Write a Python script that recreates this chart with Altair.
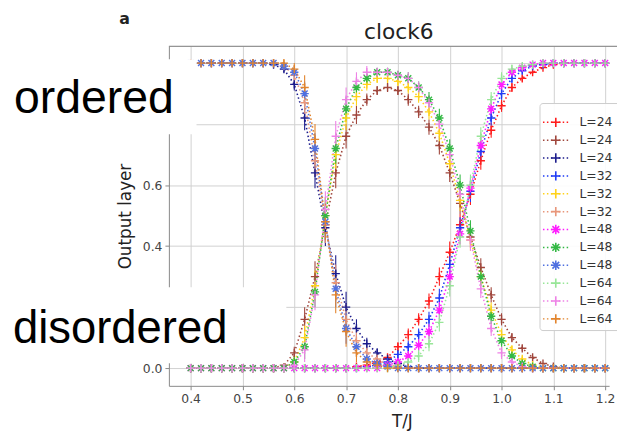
import altair as alt
import pandas as pd

# ---------------- data ----------------
T = [0.40, 0.42, 0.44, 0.46, 0.48, 0.50, 0.52, 0.54, 0.56, 0.58,
     0.60, 0.62, 0.64, 0.66, 0.68, 0.70, 0.72, 0.74, 0.76, 0.78,
     0.80, 0.82, 0.84, 0.86, 0.88, 0.90, 0.92, 0.94, 0.96, 0.98,
     1.00, 1.02, 1.04, 1.06, 1.08, 1.10, 1.12, 1.14, 1.16, 1.18, 1.20]

# L=24
red_L24 = [0, 0, 0, 0, 0, 0, 0, 0, 0, 0,
           0, 0, 0, 0, 0, 0, 0.005, 0.01, 0.02, 0.035,
           0.07, 0.11, 0.16, 0.22, 0.30, 0.38, 0.47, 0.57, 0.68, 0.78,
           0.86, 0.92, 0.95, 0.97, 0.985, 0.995, 1.0, 1.0, 1.0, 1.0, 1.0]
brown_L24 = [0, 0, 0, 0, 0, 0, 0, 0, 0, 0.01,
             0.05, 0.16, 0.30, 0.47, 0.64, 0.76, 0.83, 0.88, 0.91, 0.92,
             0.91, 0.88, 0.84, 0.79, 0.73, 0.64, 0.54, 0.43, 0.33, 0.24,
             0.16, 0.10, 0.065, 0.035, 0.015, 0.005, 0, 0, 0, 0, 0]
navy_L24 = [1.0, 1.0, 1.0, 1.0, 1.0, 1.0, 1.0, 1.0, 0.995, 0.98,
            0.93, 0.82, 0.64, 0.46, 0.31, 0.20, 0.13, 0.08, 0.05, 0.03,
            0.015, 0.005, 0, 0, 0, 0, 0, 0, 0, 0,
            0, 0, 0, 0, 0, 0, 0, 0, 0, 0, 0]
# L=32
blue_L32 = [0, 0, 0, 0, 0, 0, 0, 0, 0, 0,
            0, 0, 0, 0, 0, 0, 0, 0.005, 0.01, 0.02,
            0.045, 0.07, 0.11, 0.16, 0.23, 0.34, 0.46, 0.58, 0.71, 0.82,
            0.90, 0.95, 0.975, 0.99, 0.995, 1.0, 1.0, 1.0, 1.0, 1.0, 1.0]
yellow_L32 = [0, 0, 0, 0, 0, 0, 0, 0, 0, 0,
              0.02, 0.10, 0.27, 0.50, 0.70, 0.82, 0.89, 0.93, 0.95, 0.95,
              0.94, 0.92, 0.89, 0.84, 0.77, 0.67, 0.55, 0.42, 0.30, 0.19,
              0.11, 0.06, 0.03, 0.01, 0, 0, 0, 0, 0, 0, 0]
salmon_L32 = [1.0, 1.0, 1.0, 1.0, 1.0, 1.0, 1.0, 1.0, 1.0, 0.99,
              0.96, 0.87, 0.68, 0.47, 0.28, 0.16, 0.09, 0.05, 0.03, 0.01,
              0.005, 0, 0, 0, 0, 0, 0, 0, 0, 0,
              0, 0, 0, 0, 0, 0, 0, 0, 0, 0, 0]
# L=48
magenta_L48 = [0, 0, 0, 0, 0, 0, 0, 0, 0, 0,
               0, 0, 0, 0, 0, 0, 0, 0, 0, 0.01,
               0.02, 0.04, 0.075, 0.12, 0.19, 0.30, 0.44, 0.59, 0.73, 0.85,
               0.93, 0.97, 0.985, 0.995, 1.0, 1.0, 1.0, 1.0, 1.0, 1.0, 1.0]
green_L48 = [0, 0, 0, 0, 0, 0, 0, 0, 0, 0,
             0.02, 0.07, 0.25, 0.50, 0.72, 0.85, 0.92, 0.95, 0.97, 0.97,
             0.96, 0.95, 0.92, 0.88, 0.82, 0.72, 0.60, 0.45, 0.30, 0.17,
             0.09, 0.04, 0.015, 0.005, 0, 0, 0, 0, 0, 0, 0]
cornflower_L48 = [1.0, 1.0, 1.0, 1.0, 1.0, 1.0, 1.0, 1.0, 1.0, 0.99,
                  0.97, 0.90, 0.72, 0.48, 0.26, 0.13, 0.07, 0.03, 0.015, 0.005,
                  0, 0, 0, 0, 0, 0, 0, 0, 0, 0,
                  0, 0, 0, 0, 0, 0, 0, 0, 0, 0, 0]
# L=64
lgreen_L64 = [0, 0, 0, 0, 0, 0, 0, 0, 0, 0,
              0, 0, 0, 0, 0, 0, 0, 0, 0, 0,
              0.01, 0.02, 0.04, 0.08, 0.15, 0.27, 0.43, 0.60, 0.76, 0.88,
              0.95, 0.98, 0.99, 0.995, 1.0, 1.0, 1.0, 1.0, 1.0, 1.0, 1.0]
violet_L64 = [0, 0, 0, 0, 0, 0, 0, 0, 0, 0,
              0.01, 0.06, 0.24, 0.52, 0.76, 0.88, 0.94, 0.97, 0.97, 0.97,
              0.96, 0.95, 0.92, 0.87, 0.80, 0.70, 0.57, 0.42, 0.26, 0.13,
              0.05, 0.02, 0.005, 0, 0, 0, 0, 0, 0, 0, 0]
orange_L64 = [1.0, 1.0, 1.0, 1.0, 1.0, 1.0, 1.0, 1.0, 1.0, 1.0,
              0.98, 0.92, 0.75, 0.48, 0.24, 0.12, 0.05, 0.02, 0.01, 0,
              0, 0, 0, 0, 0, 0, 0, 0, 0, 0,
              0, 0, 0, 0, 0, 0, 0, 0, 0, 0, 0]

# error bars (half-length) per output neuron
err_ordered = [0, 0, 0, 0, 0, 0, 0, 0, 0, 0.01,
               0.02, 0.04, 0.05, 0.06, 0.06, 0.05, 0.03, 0.02, 0.015, 0.01,
               0.005, 0, 0, 0, 0, 0, 0, 0, 0, 0,
               0, 0, 0, 0, 0, 0, 0, 0, 0, 0, 0]
err_middle = [0, 0, 0, 0, 0, 0, 0, 0, 0, 0.005,
              0.02, 0.04, 0.05, 0.06, 0.05, 0.04, 0.03, 0.02, 0.015, 0.015,
              0.015, 0.02, 0.02, 0.025, 0.03, 0.03, 0.035, 0.035, 0.03, 0.025,
              0.02, 0.015, 0.01, 0.005, 0, 0, 0, 0, 0, 0, 0]
err_disordered = [0, 0, 0, 0, 0, 0, 0, 0, 0, 0,
                  0, 0, 0, 0, 0, 0, 0, 0, 0.005, 0.01,
                  0.015, 0.02, 0.02, 0.025, 0.03, 0.035, 0.035, 0.035, 0.03, 0.025,
                  0.02, 0.015, 0.01, 0.005, 0, 0, 0, 0, 0, 0, 0]

labels = ["L=24", "L=24", "L=24", "L=32", "L=32", "L=32",
          "L=48", "L=48", "L=48", "L=64", "L=64", "L=64"]
colors = ["#ff1c1c", "#a0463c", "#1c1c8c", "#1f3cf5", "#ffd21a", "#e8967a",
          "#ff1cff", "#33b844", "#4f70e0", "#98e698", "#ee82e6", "#e2842c"]
PLUS = "M-1,0L1,0M0,-1L0,1"
STAR = "M-1,0L1,0M0,-1L0,1M-0.72,-0.72L0.72,0.72M-0.72,0.72L0.72,-0.72"
marker_kind = ["plus", "plus", "plus", "plus", "plus", "plus",
               "star", "star", "star", "plus", "plus", "plus"]

series_vals = [red_L24, brown_L24, navy_L24, blue_L32, yellow_L32, salmon_L32,
               magenta_L48, green_L48, cornflower_L48, lgreen_L64, violet_L64, orange_L64]
series_err = [err_disordered, err_middle, err_ordered] * 4

ids = [f"s{k:02d}" for k in range(len(labels))]
shapes = [PLUS if m == "plus" else STAR for m in marker_kind]

rows = []
for k, (vals, errs) in enumerate(zip(series_vals, series_err)):
    for t, v, e in zip(T, vals, errs):
        rows.append({"sid": ids[k], "T": t, "v": v, "lo": v - e, "hi": v + e, "order": k})
df = pd.DataFrame(rows)

# ---------------- scales / axes ----------------
W, H = 446, 344
XDOM = [0.358, 1.2076]
YDOM = [-0.058, 1.055]
FONT = "DejaVu Sans"

xscale = alt.Scale(domain=XDOM, nice=False, zero=False)
yscale = alt.Scale(domain=YDOM, nice=False, zero=False)
xaxis = alt.Axis(values=[0.4, 0.5, 0.6, 0.7, 0.8, 0.9, 1.0, 1.1, 1.2], format=".1f",
                 title="T/J", titleX=236, titleY=36, titleBaseline="middle",
                 titleAlign="center", titleFontSize=17, titleFontWeight="normal",
                 titleFont=FONT, titleColor="#222")
# labels 0.2, 0.8 and 1.0 sit under the white annotation boxes in the reference
yaxis = alt.Axis(values=[0.0, 0.2, 0.4, 0.6, 0.8, 1.0], format=".1f",
                 labelExpr="(datum.value > 0.1 && datum.value < 0.3) || datum.value > 0.7 ? '' : datum.label",
                 title="Output layer", titleX=-44, titleY=172, titleAngle=270,
                 titleBaseline="middle", titleAlign="center", titleFontSize=17,
                 titleFontWeight="normal", titleFont=FONT, titleColor="#222")
cscale = alt.Scale(domain=ids, range=colors)
sscale = alt.Scale(domain=ids, range=shapes)

base = alt.Chart(df)

lines = base.mark_line(strokeDash=[1.5, 2.5], strokeWidth=1.6).encode(
    x=alt.X("T:Q", scale=xscale, axis=xaxis),
    y=alt.Y("v:Q", scale=yscale, axis=yaxis),
    color=alt.Color("sid:N", scale=cscale, legend=None),
    detail="sid:N",
    order=alt.Order("T:Q"),
)
errbars = base.mark_rule(strokeWidth=1.1).encode(
    x=alt.X("T:Q", scale=xscale, axis=xaxis),
    y=alt.Y("lo:Q", scale=yscale, axis=yaxis),
    y2="hi:Q",
    color=alt.Color("sid:N", scale=cscale, legend=None),
)
points = base.mark_point(filled=False, strokeWidth=1.4, size=70, opacity=1).encode(
    x=alt.X("T:Q", scale=xscale, axis=xaxis),
    y=alt.Y("v:Q", scale=yscale, axis=yaxis),
    color=alt.Color("sid:N", scale=cscale, legend=None),
    shape=alt.Shape("sid:N", scale=sscale, legend=None),
    order=alt.Order("order:Q"),
)

top_border = alt.Chart(pd.DataFrame({"a": [0]})).mark_rule(
    color="#777", strokeWidth=1).encode(
    x=alt.value(0), x2=alt.value(470), y=alt.value(0))

# ---------------- manual legend ----------------
leg = pd.DataFrame({"sid": ids, "label": labels, "i": list(range(len(ids)))})
leg["ly"] = (370 - (121 + 18.1 * leg["i"])) / 309.0
leg_box = alt.Chart(pd.DataFrame({"a": [0]})).mark_rect(
    fill="white", fillOpacity=0.9, stroke="#cccccc", strokeWidth=1, cornerRadius=3).encode(
    x=alt.value(376), x2=alt.value(470), y=alt.value(58), y2=alt.value(288))
lchart = alt.Chart(leg)
leg_lines = lchart.mark_rule(strokeDash=[1.5, 2.5], strokeWidth=1.5).encode(
    x=alt.value(379), x2=alt.value(406),
    y=alt.Y("ly:Q", scale=yscale, axis=yaxis),
    color=alt.Color("sid:N", scale=cscale, legend=None))
leg_pts = lchart.mark_point(filled=False, strokeWidth=1.6, size=90, opacity=1).encode(
    x=alt.value(392),
    y=alt.Y("ly:Q", scale=yscale, axis=yaxis),
    color=alt.Color("sid:N", scale=cscale, legend=None),
    shape=alt.Shape("sid:N", scale=sscale, legend=None))
leg_txt = lchart.mark_text(align="left", baseline="middle", fontSize=12.5,
                           font=FONT, color="#333").encode(
    x=alt.value(416),
    y=alt.Y("ly:Q", scale=yscale, axis=yaxis),
    text="label:N")

# ---------------- annotations ----------------
one = pd.DataFrame({"a": [0]})
ord_box = alt.Chart(one).mark_rect(fill="white").encode(
    x=alt.value(-171), x2=alt.value(28), y=alt.value(13), y2=alt.value(89))
ord_txt = alt.Chart(pd.DataFrame({"t": ["ordered"]})).mark_text(
    align="left", baseline="alphabetic", fontSize=47, font="Liberation Sans",
    color="black").encode(x=alt.value(-157), y=alt.value(68), text="t:N")
dis_box = alt.Chart(one).mark_rect(fill="white").encode(
    x=alt.value(-171), x2=alt.value(119), y=alt.value(244), y2=alt.value(321))
dis_txt = alt.Chart(pd.DataFrame({"t": ["disordered"]})).mark_text(
    align="left", baseline="alphabetic", fontSize=46, font="Liberation Sans",
    color="black").encode(x=alt.value(-158), y=alt.value(301), text="t:N")
title_txt = alt.Chart(pd.DataFrame({"t": ["clock6"]})).mark_text(
    align="center", baseline="alphabetic", fontSize=22, font=FONT,
    color="#222").encode(x=alt.value(233), y=alt.value(-7), text="t:N")
panel_txt = alt.Chart(pd.DataFrame({"t": ["a"]})).mark_text(
    align="center", baseline="alphabetic", fontSize=16, font=FONT,
    fontWeight="bold", color="#222").encode(x=alt.value(-45), y=alt.value(-23), text="t:N")

chart = alt.layer(
    lines, errbars, points, top_border,
    leg_box, leg_lines, leg_pts, leg_txt,
    ord_box, ord_txt, dis_box, dis_txt, title_txt, panel_txt,
).properties(
    width=W, height=H,
    autosize=alt.AutoSizeParams(type="none"),
    padding={"left": 163, "top": 36, "right": 8, "bottom": 46},
    background="white",
).configure_view(stroke=None).configure_axis(
    grid=True, gridColor="#d0d0d0", gridWidth=1,
    domainColor="#888", tickColor="#888", tickSize=4,
    labelColor="#444", labelFontSize=12.5, labelFont=FONT, labelPadding=3,
)

chart.save("out.html", embed_options={"renderer": "svg", "actions": False})
